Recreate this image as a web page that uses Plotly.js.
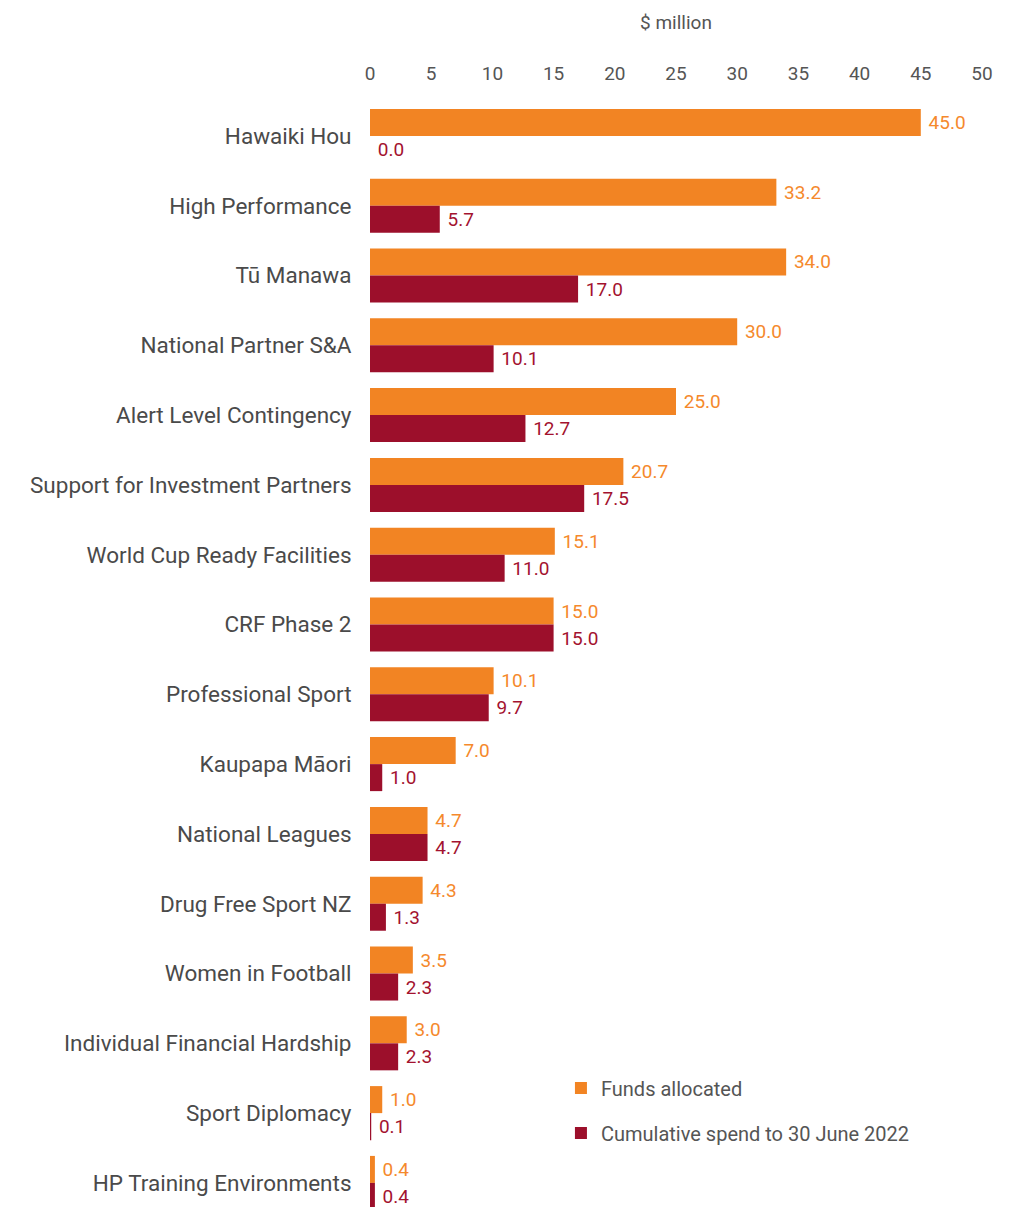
<!DOCTYPE html>
<html>
<head>
<meta charset="utf-8">
<script src="https://cdn.plot.ly/plotly-3.0.1.min.js"></script>
<style>html,body{margin:0;padding:0;background:#fff;}#chart{width:1013px;height:1207px;}</style>
</head>
<body>
<div id="chart"></div>
<script>
const categories = [
  "Hawaiki Hou", "High Performance", "Tū Manawa", "National Partner S&A",
  "Alert Level Contingency", "Support for Investment Partners", "World Cup Ready Facilities",
  "CRF Phase 2", "Professional Sport", "Kaupapa Māori", "National Leagues",
  "Drug Free Sport NZ", "Women in Football", "Individual Financial Hardship",
  "Sport Diplomacy", "HP Training Environments"
];
const fundsAllocated = [45.0, 33.2, 34.0, 30.0, 25.0, 20.7, 15.1, 15.0, 10.1, 7.0, 4.7, 4.3, 3.5, 3.0, 1.0, 0.4];
const cumulativeSpend = [0.0, 5.7, 17.0, 10.1, 12.7, 17.5, 11.0, 15.0, 9.7, 1.0, 4.7, 1.3, 2.3, 2.3, 0.1, 0.4];
const xTicks = [0, 5, 10, 15, 20, 25, 30, 35, 40, 45, 50];

const FONT = "Roboto, 'Liberation Sans', sans-serif";
const ORANGE = "#F28423";
const CRIMSON = "#9C0F2B";

const fmt = v => " " + v.toFixed(1);

const traces = [
  {
    type: "bar", orientation: "h", name: "Funds allocated",
    y: categories, x: fundsAllocated,
    text: fundsAllocated.map(fmt), textposition: "outside",
    textfont: {family: FONT, size: 19, color: "#F5892C"},
    marker: {color: ORANGE}, cliponaxis: false, constraintext: "none",
    legendgroup: "a", hoverinfo: "x+y"
  },
  {
    type: "bar", orientation: "h", name: "Cumulative spend to 30 June 2022",
    y: categories, x: cumulativeSpend,
    text: cumulativeSpend.map(fmt), textposition: "outside",
    textfont: {family: FONT, size: 19, color: "#A3122F"},
    marker: {color: CRIMSON}, cliponaxis: false, constraintext: "none",
    legendgroup: "b", hoverinfo: "x+y"
  }
];

const layout = {
  width: 1013, height: 1207,
  margin: {l: 370, r: 31, t: 101, b: 0},
  paper_bgcolor: "#fff", plot_bgcolor: "#fff",
  font: {family: FONT, color: "#555"},
  barmode: "group", bargap: 0.226, bargroupgap: 0,
  showlegend: true,
  legend: {
    x: 0.312, y: 0.1253, xanchor: "left", yanchor: "top",
    traceorder: "grouped", tracegroupgap: 16,
    font: {family: FONT, size: 20, color: "#555"},
    bgcolor: "rgba(0,0,0,0)"
  },
  xaxis: {
    side: "top", range: [0, 50], tickvals: xTicks, ticktext: xTicks.map(String),
    showgrid: false, zeroline: false, showline: false,
    ticks: "outside", ticklen: 12, tickcolor: "rgba(0,0,0,0)",
    tickfont: {family: FONT, size: 19, color: "#555"},
    title: {text: "$ million", font: {family: FONT, size: 19, color: "#555"}, standoff: 27},
    automargin: false, fixedrange: true
  },
  yaxis: {
    type: "category", categoryorder: "array", categoryarray: categories,
    range: [15.345, -0.5],
    showgrid: false, zeroline: false, showline: false,
    ticks: "outside", ticklen: 13, tickcolor: "rgba(0,0,0,0)",
    tickfont: {family: FONT, size: 22.5, color: "#4a4a4a"},
    automargin: false, fixedrange: true
  }
};

Plotly.newPlot("chart", traces, layout, {displayModeBar: false, staticPlot: true});
</script>
</body>
</html>
